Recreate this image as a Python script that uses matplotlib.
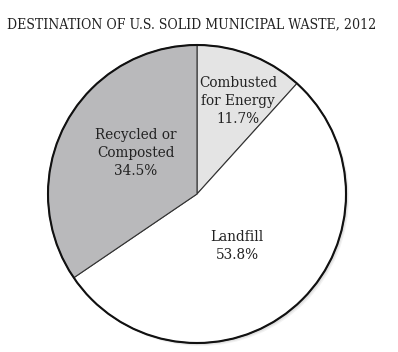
import matplotlib
matplotlib.use("Agg")
import matplotlib.pyplot as plt
from matplotlib.patches import Circle

categories = ["Combusted\nfor Energy", "Landfill", "Recycled or\nComposted"]
values = [11.7, 53.8, 34.5]
colors = ["#e4e4e4", "#ffffff", "#b9b9bb"]
title = "DESTINATION OF U.S. SOLID MUNICIPAL WASTE, 2012"

W, H = 398, 352
fig = plt.figure(figsize=(W / 100, H / 100), dpi=100)
ax = fig.add_axes([0, 0, 1, 1])
cx, cy, r = 197, H - 194, 149

# soft shadow at bottom-right
for off, a in [(3.0, 0.10), (2.0, 0.15), (1.0, 0.2)]:
    ax.add_patch(Circle((cx + off, cy - off), r, facecolor="#888888", edgecolor="none", alpha=a, zorder=0))

wedges, _ = ax.pie(values, colors=colors, startangle=90, counterclock=False,
                   center=(cx, cy), radius=r,
                   wedgeprops=dict(edgecolor="#333333", linewidth=0.8))
for w in wedges:
    w.set_zorder(1)
ax.add_patch(Circle((cx, cy), r, facecolor="none", edgecolor="#111111", linewidth=1.5, zorder=2))

label_pos = [(238, H - 101), (237, H - 246), (136, H - 153)]
font = "DejaVu Serif"
for cat, v, (x, y) in zip(categories, values, label_pos):
    ax.text(x, y, f"{cat}\n{v:.1f}%", ha="center", va="center", fontsize=9.8,
            family=font, color="#222222", linespacing=1.38, zorder=3)

fig.text(7 / W, 1 - 24 / H, title, ha="left", va="center", fontsize=10.1,
         family=font, stretch="condensed", color="#222222")

ax.set_xlim(0, W)
ax.set_ylim(0, H)
ax.set_aspect("equal")
ax.axis("off")
fig.savefig("out.png", dpi=100, facecolor="white")
